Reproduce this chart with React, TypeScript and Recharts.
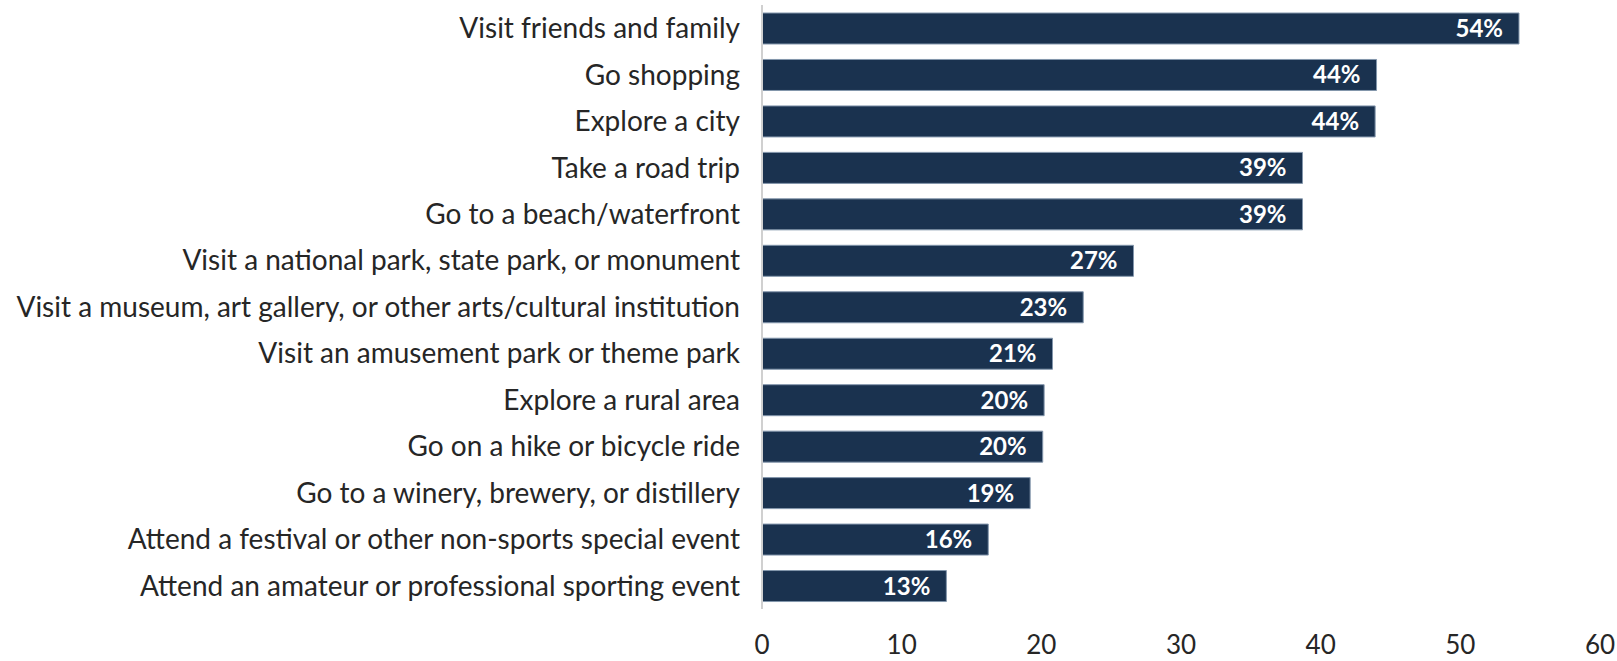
import { Bar, BarChart, LabelList, XAxis, YAxis } from "recharts";

const activities = [
  "Visit friends and family",
  "Go shopping",
  "Explore a city",
  "Take a road trip",
  "Go to a beach/waterfront",
  "Visit a national park, state park, or monument",
  "Visit a museum, art gallery, or other arts/cultural institution",
  "Visit an amusement park or theme park",
  "Explore a rural area",
  "Go on a hike or bicycle ride",
  "Go to a winery, brewery, or distillery",
  "Attend a festival or other non-sports special event",
  "Attend an amateur or professional sporting event",
];

const shares = [54.2, 44.0, 43.9, 38.7, 38.7, 26.6, 23.0, 20.8, 20.2, 20.1, 19.2, 16.2, 13.2];

const shareLabels = ["54%", "44%", "44%", "39%", "39%", "27%", "23%", "21%", "20%", "20%", "19%", "16%", "13%"];

const xTicks = [0, 10, 20, 30, 40, 50, 60];

const data = activities.map((name, i) => ({
  name,
  value: shares[i],
  label: shareLabels[i],
}));

export default function App() {
  return (
    <div style={{ position: "absolute", left: 0, top: 0 }}>
      <BarChart
        width={1617}
        height={661}
        data={data}
        layout="vertical"
        margin={{ top: 5, right: 17, left: 0, bottom: 0 }}
      >
        <XAxis
          type="number"
          domain={[0, 60]}
          ticks={xTicks}
          axisLine={false}
          tickLine={false}
          tickSize={0}
          tickMargin={27}
          height={52}
          interval={0}
          tick={{ fill: "#262626", fontSize: 26, fontFamily: "Lato" }}
        />
        <YAxis
          type="category"
          dataKey="name"
          width={762}
          axisLine={{ stroke: "#d0d0d0", strokeWidth: 2 }}
          tickLine={false}
          tickSize={0}
          tickMargin={22}
          interval={0}
          tick={{ fill: "#262626", fontSize: 28, fontFamily: "Lato" }}
        />
        <Bar
          dataKey="value"
          fill="#1a324f"
          stroke="#8396ac"
          strokeWidth={1}
          barSize={31}
          isAnimationActive={false}
        >
          <LabelList
            dataKey="label"
            position="insideRight"
            offset={16}
            fill="#ffffff"
            style={{ fontSize: 24, fontWeight: 700, fontFamily: "Lato" }}
          />
        </Bar>
      </BarChart>
    </div>
  );
}
